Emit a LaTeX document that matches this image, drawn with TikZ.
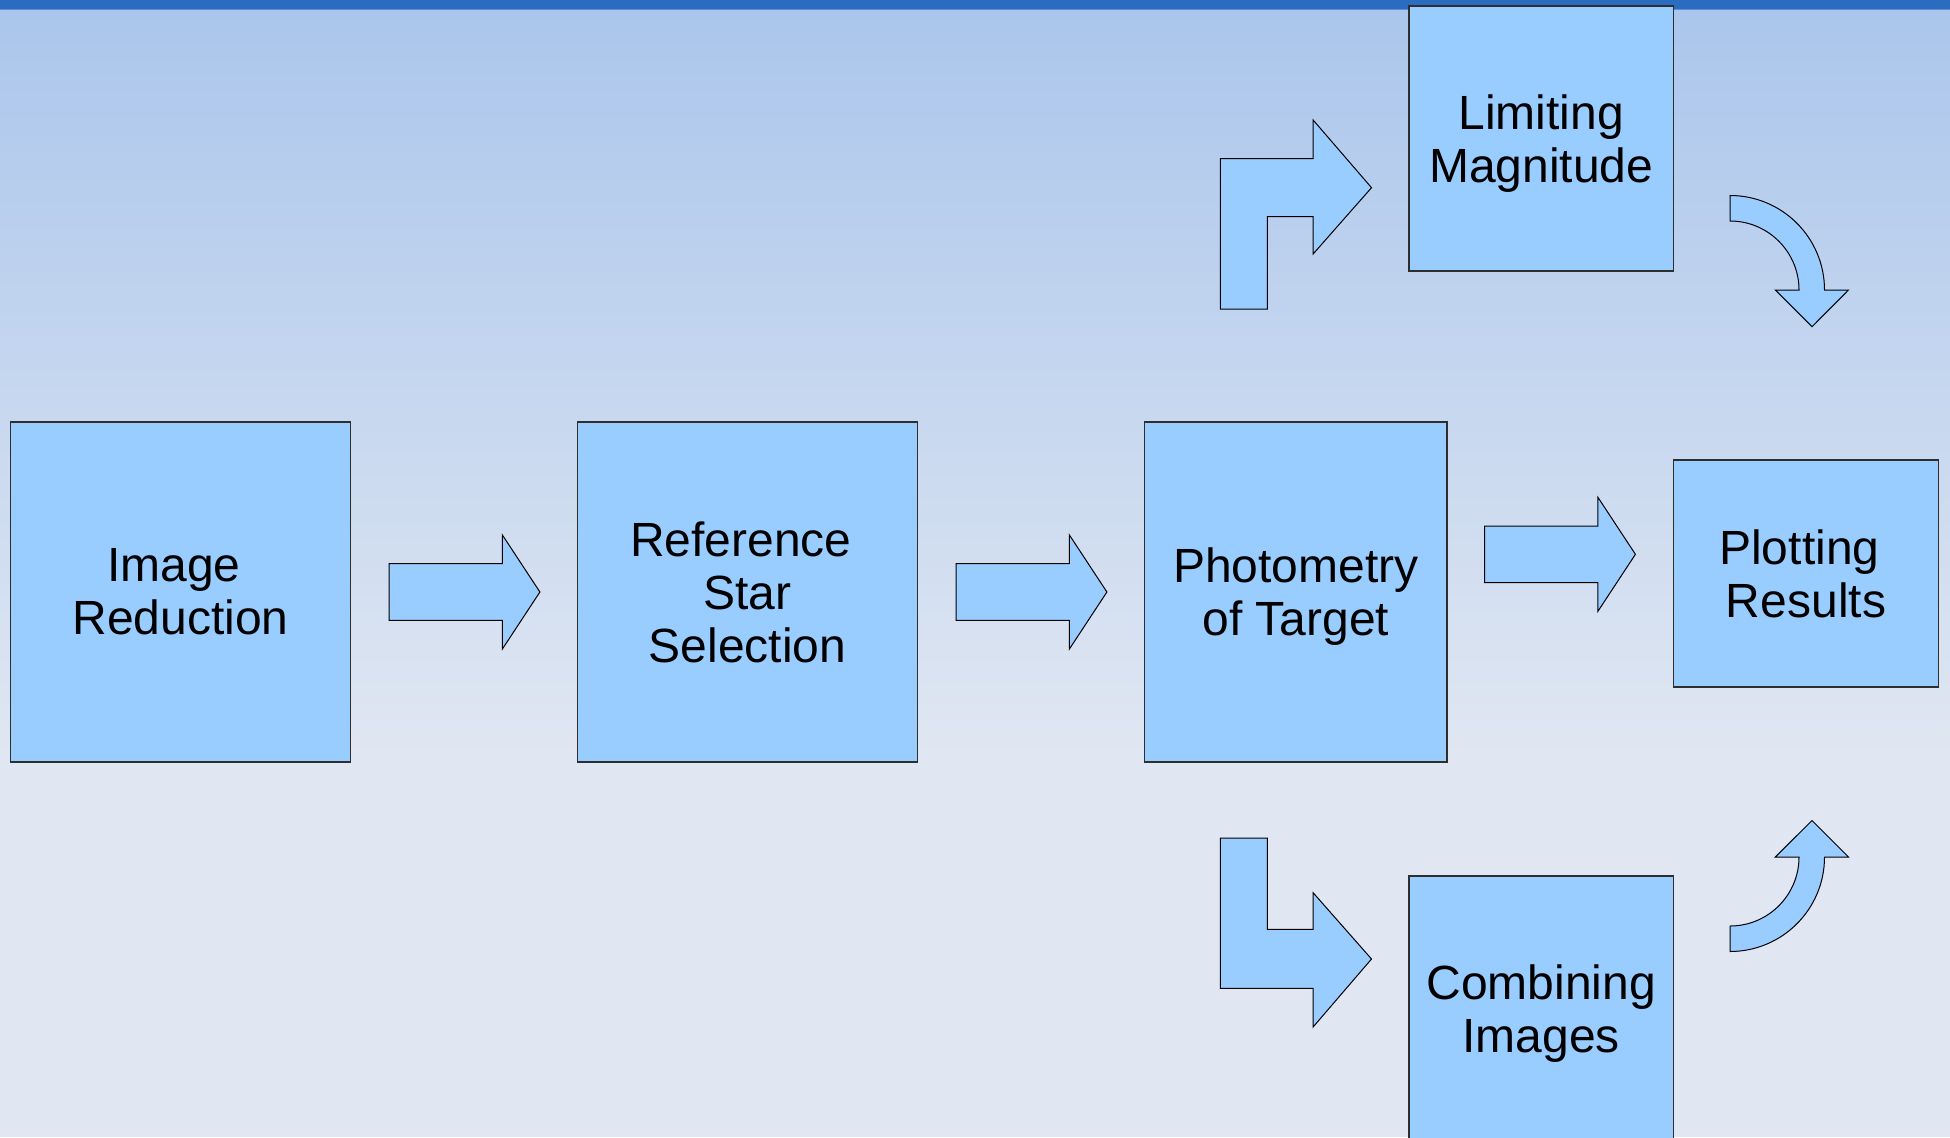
\documentclass[tikz,border=0pt]{standalone}
\usepackage{fontspec}
\setmainfont{Liberation Sans}
\usetikzlibrary{calc}

\definecolor{boxblue}{HTML}{99CCFF}
\definecolor{barblue}{HTML}{2A6CBF}
\definecolor{barline}{HTML}{5A8FD6}
\definecolor{bgtop}{HTML}{ABC6EC}
\definecolor{bgbot}{HTML}{E0E7F2}
\definecolor{edgegray}{HTML}{2E2E2E}

% a trailing word space that survives the line break
\newcommand\trsp{\hbox{\ }}

\begin{document}
\begin{tikzpicture}[x=1pt,y=-1pt,
  stagebox/.style={draw=edgegray, line width=1.4pt, fill=boxblue,
    align=center, inner sep=0pt, font=\fontsize{48}{53}\selectfont},
  blockarrow/.style={draw=black, line width=1pt, fill=boxblue, line join=miter},
  rightarrow/.pic={
    \draw[blockarrow] (0,-28.3) -- (113.2,-28.3) -- (113.2,-57) -- (150.7,0)
      -- (113.2,57) -- (113.2,28.3) -- (0,28.3) -- cycle;
  }]

\useasboundingbox (0,0) rectangle (1950,1137);
\clip (0,0) rectangle (1950,1137);

% background: title bar and vertical gradient
\fill[bgbot] (0,0) rectangle (1950,1137);
\fill[top color=bgtop, bottom color=bgbot] (0,10) rectangle (1950,760);
\fill[barblue] (0,0) rectangle (1950,10);
\fill[barline] (0,9) rectangle (1950,10.5);

% processing stages
\node[stagebox, minimum width=340pt, minimum height=340pt] (red) at (180.5,592)
  {Image\trsp\\Reduction};
\node[stagebox, minimum width=340pt, minimum height=340pt] (ref) at (747.5,592)
  {Reference\trsp\\Star\\Selection};
\node[stagebox, minimum width=302.5pt, minimum height=340pt] (phot) at (1295.75,592)
  {Photometry\\\smash{of Target}};
\node[stagebox, minimum width=265pt, minimum height=227pt] (plot) at (1806,573.5)
  {Plotting\trsp\\Results};
\node[stagebox, minimum width=264.5pt, minimum height=265pt] (lim) at (1541.25,138.5)
  {Limiting\\\smash{Magnitude}};
\node[stagebox, minimum width=264.5pt, minimum height=265pt] (comb) at (1541.25,1008.5)
  {Combining\\\smash{Images}};

% straight block arrows along the main line
\pic at ($(red.east)+(38,0)$) {rightarrow};
\pic at ($(ref.east)+(38,0)$) {rightarrow};
\pic at ($(phot.east)+(37,-37.7)$) {rightarrow};

% bent arrow up to the limiting magnitude stage
\draw[blockarrow] (1220.3,309) -- (1220.3,158.7) -- (1313.1,158.7) -- (1313.1,120)
  -- (1371.5,187.7) -- (1313.1,254) -- (1313.1,216.7) -- (1267.4,216.7)
  -- (1267.4,309) -- cycle;

% bent arrow down to the combining stage
\draw[blockarrow] (1220.3,838) -- (1267.4,838) -- (1267.4,929.3) -- (1313.1,929.3)
  -- (1313.1,892.7) -- (1371.5,959) -- (1313.1,1027) -- (1313.1,988.3)
  -- (1220.3,988.3) -- cycle;

% curved arrow from limiting magnitude down to the results
\draw[blockarrow] (1730,195.5) .. controls (1782.2,195.5) and (1824.5,237.8) .. (1824.5,290)
  -- (1848.5,290) -- (1812,326.7) -- (1775.3,290) -- (1799,290)
  .. controls (1799,251.9) and (1768.1,221) .. (1730,221) -- cycle;

% curved arrow from combining images up to the results
\draw[blockarrow] (1730,951.5) .. controls (1782.2,951.5) and (1824.5,909.2) .. (1824.5,857)
  -- (1848.5,857) -- (1812,820.5) -- (1775.3,857) -- (1799,857)
  .. controls (1799,895.1) and (1768.1,926) .. (1730,926) -- cycle;

\end{tikzpicture}
\end{document}
